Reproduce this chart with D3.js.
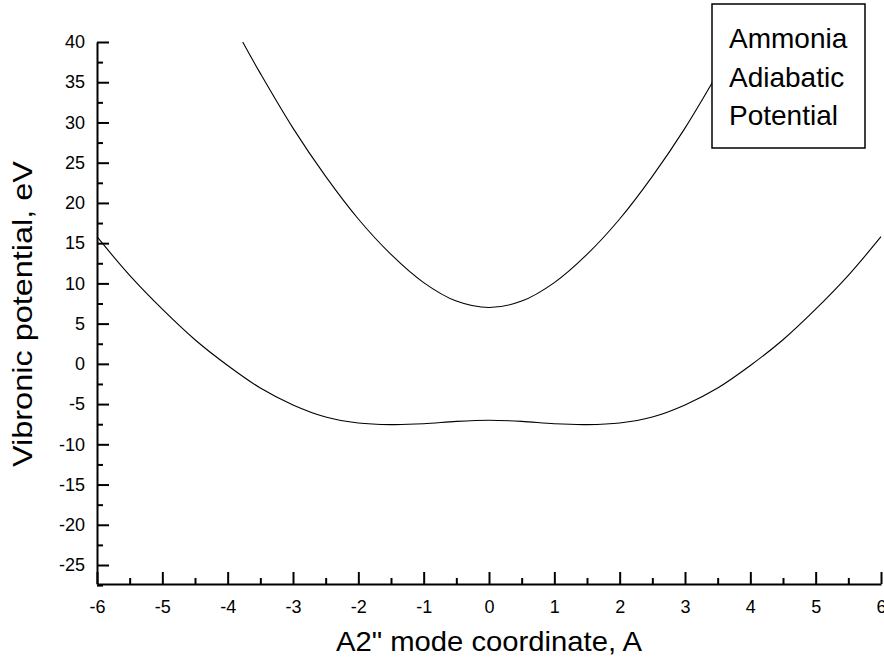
<!DOCTYPE html>
<html lang="en">
<head>
  <meta charset="UTF-8">
  <title>Ammonia Adiabatic Potential</title>
  <script src="https://d3js.org/d3.v7.min.js"></script>
  <style>
    body { margin: 0; background: #fff; }
    svg { display: block; font-family: "Liberation Sans", Arial, sans-serif; }
    .curve { fill: none; stroke: #000; stroke-width: 1.1px; }
    .axis path, .axis line { stroke: #000; stroke-width: 2px; }
    .axis text { font-size: 18px; fill: #000; }
    .title { font-size: 28px; fill: #000; }
    .legend text { font-size: 28px; fill: #000; }
  </style>
</head>
<body>
  <svg width="884" height="667"></svg>
  <script>
    // data
    const lowerX = [-6, -5.5, -5, -4.5, -4, -3.5, -3, -2.5, -2, -1.5, -1, -0.5, 0,
                    0.5, 1, 1.5, 2, 2.5, 3, 3.5, 4, 4.5, 5, 5.5, 6];
    const lowerY = [15.8, 11.0, 6.8, 3.0, -0.2, -3.0, -5.1, -6.6, -7.35, -7.55, -7.45, -7.15, -7.0,
                    -7.15, -7.45, -7.55, -7.35, -6.6, -5.1, -3.0, -0.2, 3.0, 6.8, 11.0, 15.8];

    const upperX = [-3.77, -3.5, -3, -2.5, -2, -1.5, -1, -0.5, 0, 0.5, 1, 1.5, 2, 2.5, 3, 3.5, 3.77];
    const upperY = [40.0, 36.1, 29.3, 23.3, 18.0, 13.6, 10.1, 7.8, 7.0, 7.8, 10.1, 13.6, 18.0, 23.3, 29.3, 36.1, 40.0];

    const xTicks = [-6, -5, -4, -3, -2, -1, 0, 1, 2, 3, 4, 5, 6];
    const yTicks = [-25, -20, -15, -10, -5, 0, 5, 10, 15, 20, 25, 30, 35, 40];
    const legendLines = ["Ammonia", "Adiabatic", "Potential"];

    const svg = d3.select("svg");

    const x = d3.scaleLinear().domain([-6, 6]).range([97, 881]);
    const y = d3.scaleLinear().domain([-27.36, 40]).range([584, 42]);

    // minor ticks halfway between the major ones
    const xMinor = xTicks.slice(0, -1).map(v => v + 0.5);
    const yMinor = yTicks.map(v => v - 2.5);

    // plain hyphen for negatives, like the original
    const fmt = d => String(d);

    // curves
    const line = d3.line()
      .x(d => x(d[0]))
      .y(d => y(d[1]))
      .curve(d3.curveCatmullRom);

    svg.append("path")
      .attr("class", "curve")
      .attr("d", line(d3.zip(lowerX, lowerY)));

    svg.append("path")
      .attr("class", "curve")
      .attr("d", line(d3.zip(upperX, upperY)));

    // y axis, ticks pointing inside
    svg.append("g")
      .attr("class", "axis")
      .attr("transform", "translate(97,0)")
      .call(d3.axisLeft(y).tickValues(yMinor).tickSizeInner(-6).tickSizeOuter(0).tickFormat(""))
      .call(g => g.select(".domain").remove());

    svg.append("g")
      .attr("class", "axis")
      .attr("transform", "translate(97,0)")
      .call(d3.axisLeft(y).tickValues(yTicks).tickSizeInner(-12).tickSizeOuter(0).tickPadding(12).tickFormat(fmt));

    // x axis
    svg.append("g")
      .attr("class", "axis")
      .attr("transform", "translate(0,584)")
      .call(d3.axisBottom(x).tickValues(xMinor).tickSizeInner(-6).tickSizeOuter(0).tickFormat(""))
      .call(g => g.select(".domain").remove());

    svg.append("g")
      .attr("class", "axis")
      .attr("transform", "translate(0,584)")
      .call(d3.axisBottom(x).tickValues(xTicks).tickSizeInner(-12).tickSizeOuter(0).tickPadding(16).tickFormat(fmt));

    // axis titles
    svg.append("text")
      .attr("class", "title")
      .attr("x", 489)
      .attr("y", 651)
      .attr("text-anchor", "middle")
      .attr("textLength", 306)
      .attr("lengthAdjust", "spacingAndGlyphs")
      .text("A2\" mode coordinate, A");

    svg.append("text")
      .attr("class", "title")
      .attr("transform", "translate(32,314) rotate(-90)")
      .attr("text-anchor", "middle")
      .attr("textLength", 306)
      .attr("lengthAdjust", "spacingAndGlyphs")
      .text("Vibronic potential, eV");

    // legend box sits on top of the upper curve
    const legend = svg.append("g").attr("class", "legend");

    legend.append("rect")
      .attr("x", 712)
      .attr("y", 4)
      .attr("width", 153)
      .attr("height", 144)
      .attr("fill", "#fff")
      .attr("stroke", "#000")
      .attr("stroke-width", 1.5);

    legend.selectAll("text")
      .data(legendLines)
      .join("text")
      .attr("x", 729)
      .attr("y", (d, i) => 48 + i * 38.5)
      .text(d => d);
  </script>
</body>
</html>
